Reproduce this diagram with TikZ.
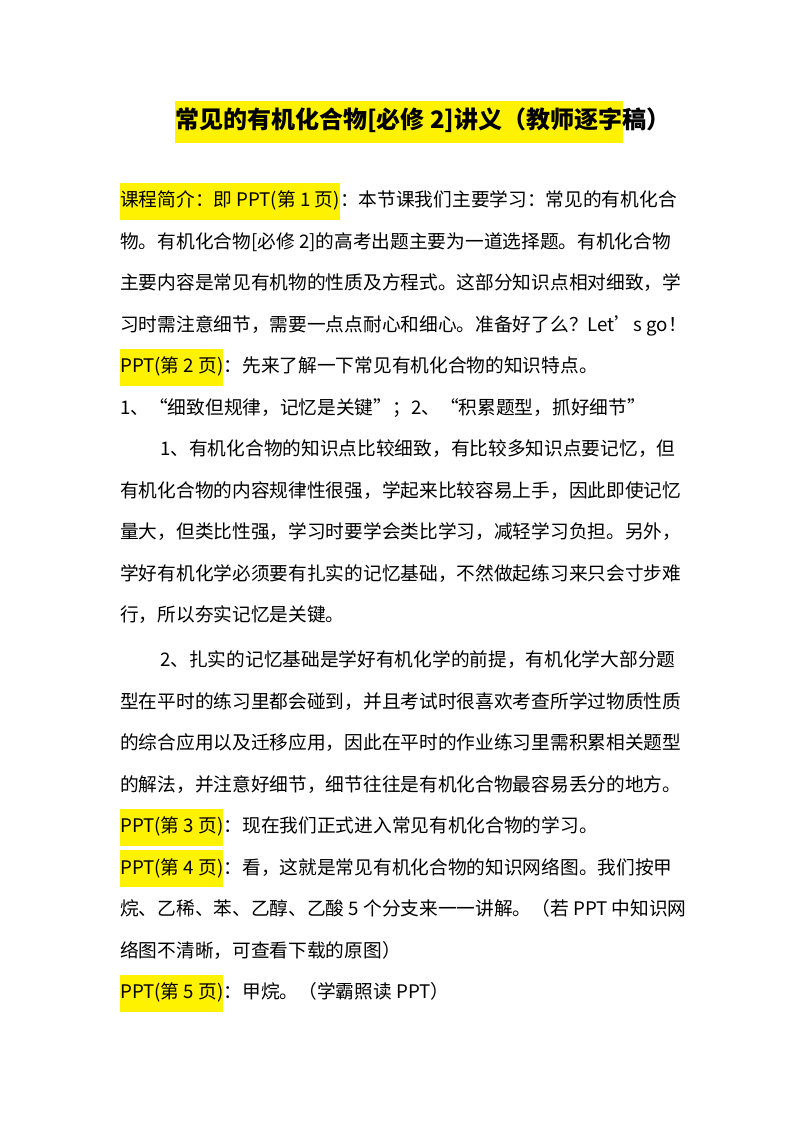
\documentclass[tikz,border=0pt]{standalone}
\usepackage{fontspec}
\setmainfont{Noto Sans CJK SC}
\begin{document}
\begin{tikzpicture}[x=1pt,y=-1pt,
  txt/.style={anchor=base west,inner sep=0pt,font=\fontsize{18.7}{22}\selectfont},
  hl/.style={txt,fill=yellow,text height=24pt,text depth=13pt},
  ttl/.style={anchor=base west,inner sep=0pt,font=\fontsize{24}{28}\selectfont\bfseries}]
\useasboundingbox (0,0) rectangle (800,1132);
\fill[white] (0,0) rectangle (800,1132);
\node[ttl,fill=yellow,text height=27pt,text depth=15pt] (t1) at (175,128) {常见的有机化合物[必修 2]讲义（教师逐字};
\node[ttl] (t2) at (t1.base east) {稿）};
\node[hl] (h1) at (120,206.5) {课程简介：即 PPT(第 1 页)};
\node[txt] (l1) at (h1.base east) {：本节课我们主要学习：常见的有机化合};
\node[txt] (l2) at (120,248) {物。有机化合物[必修 2]的高考出题主要为一道选择题。有机化合物};
\node[txt] (l3) at (120,289.5) {主要内容是常见有机物的性质及方程式。这部分知识点相对细致，学};
\node[txt] (l4) at (120,331) {习时需注意细节，需要一点点耐心和细心。准备好了么？Let’s go！};
\node[hl] (h2) at (120,372.5) {PPT(第 2 页)};
\node[txt] (l5) at (h2.base east) {：先来了解一下常见有机化合物的知识特点。};
\node[txt] (l6) at (120,414) {1、“细致但规律，记忆是关键”；2、“积累题型，抓好细节”};
\node[txt] (l7) at (160,455.5) {1、有机化合物的知识点比较细致，有比较多知识点要记忆，但};
\node[txt] (l8) at (120,497) {有机化合物的内容规律性很强，学起来比较容易上手，因此即使记忆};
\node[txt] (l9) at (120,538.5) {量大，但类比性强，学习时要学会类比学习，减轻学习负担。另外，};
\node[txt] (l10) at (120,580) {学好有机化学必须要有扎实的记忆基础，不然做起练习来只会寸步难};
\node[txt] (l11) at (120,621.5) {行，所以夯实记忆是关键。};
\node[txt] (l12) at (160,666.5) {2、扎实的记忆基础是学好有机化学的前提，有机化学大部分题};
\node[txt] (l13) at (120,708) {型在平时的练习里都会碰到，并且考试时很喜欢考查所学过物质性质};
\node[txt] (l14) at (120,749.5) {的综合应用以及迁移应用，因此在平时的作业练习里需积累相关题型};
\node[txt] (l15) at (120,791) {的解法，并注意好细节，细节往往是有机化合物最容易丢分的地方。};
\node[hl] (h3) at (120,832.5) {PPT(第 3 页)};
\node[txt] (l16) at (h3.base east) {：现在我们正式进入常见有机化合物的学习。};
\node[hl] (h4) at (120,874) {PPT(第 4 页)};
\node[txt] (l17) at (h4.base east) {：看，这就是常见有机化合物的知识网络图。我们按甲};
\node[txt] (l18) at (120,915.5) {烷、乙稀、苯、乙醇、乙酸 5 个分支来一一讲解。（若 PPT 中知识网};
\node[txt] (l19) at (120,957) {络图不清晰，可查看下载的原图）};
\node[hl] (h5) at (120,998.5) {PPT(第 5 页)};
\node[txt] (l20) at (h5.base east) {：甲烷。（学霸照读 PPT）};
\end{tikzpicture}
\end{document}
